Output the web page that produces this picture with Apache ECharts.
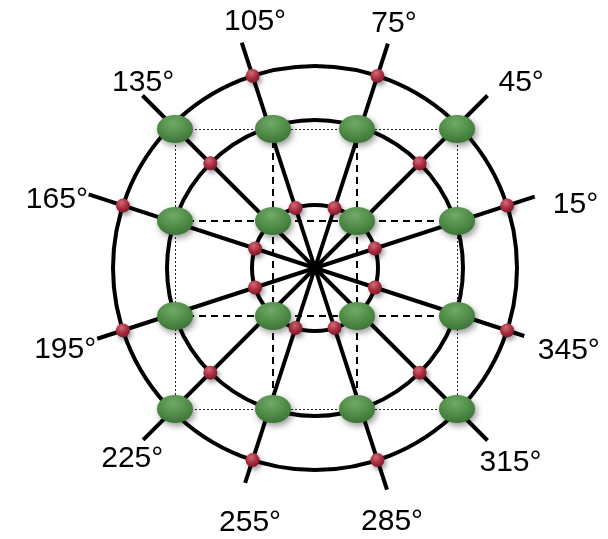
<!DOCTYPE html>
<html><head><meta charset="utf-8">
<script src="https://cdn.jsdelivr.net/npm/echarts@6/dist/echarts.min.js"></script>
<style>html,body{margin:0;padding:0;background:#fff}#c{width:608px;height:539px}</style>
</head><body><div id="c"></div>
<script>
// ---- data (units: drawing units about the common centre) ----
const ringRadii = [63, 148, 202];
const spokeAngles = [18, 45, 72, 108, 135, 162, 198, 225, 252, 288, 315, 342];
const spokeLengths = [231, 244, 236, 237, 244, 238, 229, 243, 226, 233, 244, 220];
const angleLabels = ['15°','45°','75°','105°','135°','165°','195°','225°','255°','285°','315°','345°'];
const gridX = [-140, -42, 42, 142];
const gridY = [139, 47, -48, -141];
// red junctions: which spoke angles meet each ring with a red dot
const redInner = [18, 72, 108, 162, 198, 252, 288, 342];
const redMiddle = [45, 135, 225, 315];
const redOuter = [18, 72, 108, 162, 198, 252, 288, 342];

// ---- layout (label anchors, polar: [angle, radius]) ----
const labelAnchor = [[13.6,268],[41.9,277],[72.1,257],[103.7,253],[132.8,253],[165.2,267],
                     [198.2,263],[226.2,264],[255.7,263],[286.9,265],[315.1,276],[341.9,267]];

const rad = d => d * Math.PI / 180;
const polar = (r, a) => [r * Math.cos(rad(a)), r * Math.sin(rad(a))];

const greenNodes = [];
gridY.forEach(y => gridX.forEach(x => greenNodes.push([x, y])));
const redDots = [
  ...redInner.map(a => polar(ringRadii[0], a)),
  ...redMiddle.map(a => polar(ringRadii[1], a)),
  ...redOuter.map(a => polar(ringRadii[2], a))
];

const dashed = [
  [[gridX[0], gridY[1]], [gridX[3], gridY[1]]],
  [[gridX[0], gridY[2]], [gridX[3], gridY[2]]],
  [[gridX[1], gridY[0]], [gridX[1], gridY[3]]],
  [[gridX[2], gridY[0]], [gridX[2], gridY[3]]]
];
const dotted = [
  [[gridX[0], gridY[0]], [gridX[3], gridY[0]]],
  [[gridX[0], gridY[3]], [gridX[3], gridY[3]]],
  [[gridX[0], gridY[0]], [gridX[0], gridY[3]]],
  [[gridX[3], gridY[0]], [gridX[3], gridY[3]]]
];

const greenFill = new echarts.graphic.RadialGradient(0.45, 0.3, 0.95, [
  {offset: 0, color: '#72aa68'}, {offset: 0.45, color: '#4f8b47'}, {offset: 1, color: '#2c5f27'}]);
const redFill = new echarts.graphic.RadialGradient(0.4, 0.3, 0.8, [
  {offset: 0, color: '#d46a76'}, {offset: 0.5, color: '#a82e40'}, {offset: 1, color: '#701424'}]);

const chart = echarts.init(document.getElementById('c'));
chart.setOption({
  animation: false,
  grid: {left: 0, right: 0, top: 0, bottom: 0},
  xAxis: {type: 'value', min: -315, max: 293, show: false},
  yAxis: {type: 'value', min: -271, max: 268, show: false},
  series: [
    {
      type: 'lines', coordinateSystem: 'cartesian2d', z: 1, silent: true,
      data: dotted.map(c => ({coords: c})),
      lineStyle: {color: '#222', width: 1, type: [2, 2], opacity: 1}
    },
    {
      type: 'lines', coordinateSystem: 'cartesian2d', z: 1, silent: true,
      data: dashed.map(c => ({coords: c})),
      lineStyle: {color: '#000', width: 2, type: [7, 5], opacity: 1}
    },
    {
      type: 'custom', z: 2, silent: true,
      data: ringRadii.map(r => [r, 0]),
      renderItem(params, api) {
        const c = api.coord([0, 0]);
        const e = api.coord([api.value(0), 0]);
        return {type: 'circle', shape: {cx: c[0], cy: c[1], r: e[0] - c[0]},
                style: {fill: 'none', stroke: '#000', lineWidth: 4}};
      }
    },
    {
      type: 'custom', z: 3, silent: true,
      data: spokeAngles.map((a, i) => [a, spokeLengths[i]]),
      renderItem(params, api) {
        const c = api.coord([0, 0]);
        const e = api.coord(polar(api.value(1), api.value(0)));
        return {type: 'line', shape: {x1: c[0], y1: c[1], x2: e[0], y2: e[1]},
                style: {stroke: '#000', lineWidth: 4, lineCap: 'butt'}};
      }
    },
    {
      type: 'scatter', z: 5, silent: true,
      data: redDots, symbol: 'circle', symbolSize: 14,
      itemStyle: {color: redFill, opacity: 1, shadowColor: 'rgba(0,0,0,0.4)', shadowBlur: 5, shadowOffsetX: 2, shadowOffsetY: 3}
    },
    {
      type: 'scatter', z: 6, silent: true,
      data: greenNodes, symbol: 'circle', symbolSize: [36, 28],
      itemStyle: {color: greenFill, opacity: 1, shadowColor: 'rgba(0,0,0,0.4)', shadowBlur: 6, shadowOffsetX: 2, shadowOffsetY: 3}
    },
    {
      type: 'scatter', z: 7, silent: true, symbolSize: 0,
      itemStyle: {opacity: 1},
      data: labelAnchor.map((p, i) => ({value: polar(p[1], p[0]), name: angleLabels[i]})),
      label: {show: true, position: 'inside', formatter: '{b}', color: '#000', opacity: 1,
              fontSize: 30, fontFamily: 'Liberation Sans, Arial, sans-serif'}
    }
  ]
});
</script></body></html>
